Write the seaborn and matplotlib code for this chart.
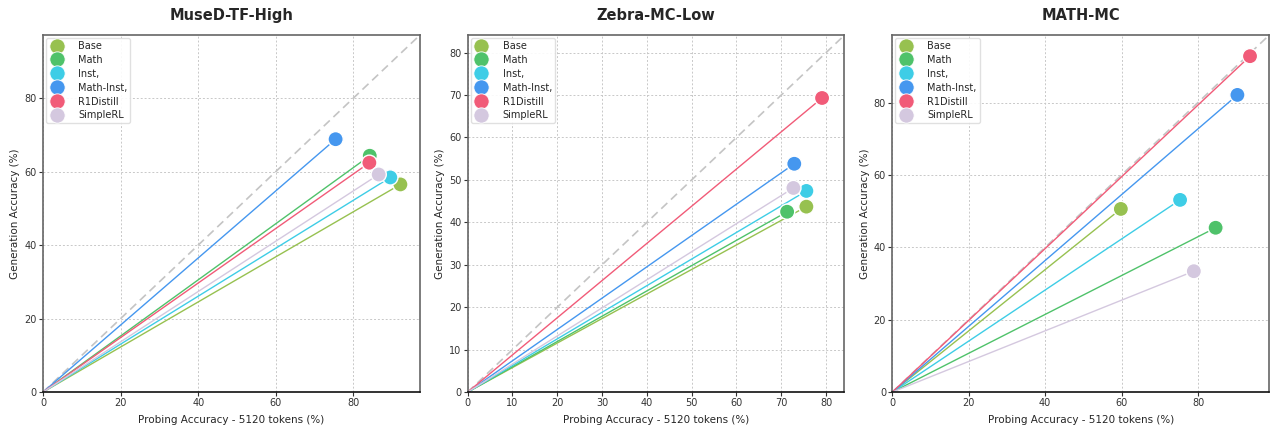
import matplotlib
matplotlib.use("Agg")
import matplotlib.pyplot as plt
from matplotlib.lines import Line2D
import seaborn as sns
import pandas as pd

models = ["Base", "Math", "Inst,", "Math-Inst,", "R1Distill", "SimpleRL"]
colors = ["#97c150", "#4fc26a", "#3ecde6", "#4597ef", "#f15b78", "#d4c8df"]

titles = ["MuseD-TF-High", "Zebra-MC-Low", "MATH-MC"]

# probing accuracy (x) and generation accuracy (y) per benchmark
muse_probe = [92.1, 84.2, 89.5, 75.4, 84.1, 86.5]
muse_gen = [56.5, 64.3, 58.4, 68.8, 62.4, 59.2]

zebra_probe = [75.6, 71.3, 75.6, 72.9, 79.1, 72.7]
zebra_gen = [43.7, 42.5, 47.4, 53.8, 69.3, 48.1]

math_probe = [59.8, 84.6, 75.3, 90.3, 93.6, 78.9]
math_gen = [50.6, 45.4, 53.1, 82.1, 92.8, 33.4]

tick_steps = [20, 10, 20]

sns.set_style("white")
plt.rcParams["font.family"] = ["DejaVu Sans"]

fig, axes = plt.subplots(1, 3, figsize=(12.8, 4.29), dpi=100)
fig.subplots_adjust(left=0.0336, right=0.9915, top=0.918, bottom=0.086, wspace=0.127)

palette = dict(zip(models, colors))
datasets = [(muse_probe, muse_gen), (zebra_probe, zebra_gen), (math_probe, math_gen)]

for ax, title, (xs, ys), step in zip(axes, titles, datasets, tick_steps):
    df = pd.DataFrame({"model": models, "probe": xs, "gen": ys})
    lim = max(max(xs), max(ys)) + 5

    ax.set_axisbelow(True)
    ax.grid(True, linestyle=(0, (2, 2)), color="#c8c8c8", linewidth=0.7)
    ax.plot([0, lim], [0, lim], linestyle=(0, (5, 3)), color="#c4c4c4", linewidth=1.2, zorder=1)

    # ray from the origin to each model's point
    for m, x, y in zip(models, xs, ys):
        ax.plot([0, x], [0, y], color=palette[m], linewidth=1.0, zorder=2)

    sns.scatterplot(data=df, x="probe", y="gen", hue="model", palette=palette,
                    hue_order=models, s=120, edgecolor="white", linewidth=1.0,
                    alpha=1.0, ax=ax, legend=False, zorder=3)

    ax.set_xlim(0, lim)
    ax.set_ylim(0, lim)
    ticks = list(range(0, int(lim) + 1, step))
    ax.set_xticks(ticks)
    ax.set_yticks(ticks)
    ax.tick_params(axis="both", labelsize=7, length=3, width=0.8, direction="out",
                   bottom=True, left=True, pad=1.5, colors="#333333")
    ax.set_title(title, fontsize=10.5, fontweight="bold", pad=11)
    ax.set_xlabel("Probing Accuracy - 5120 tokens (%)", fontsize=7.5, labelpad=5)
    ax.set_ylabel("Generation Accuracy (%)", fontsize=7.5, labelpad=3)
    for side in ["left", "top", "right"]:
        ax.spines[side].set_color("#666666")
        ax.spines[side].set_linewidth(1.2)
    ax.spines["bottom"].set_color("#111111")
    ax.spines["bottom"].set_linewidth(1.2)

    handles = [Line2D([], [], marker="o", linestyle="", markersize=11,
                      markerfacecolor=c, markeredgecolor="white", markeredgewidth=0.6)
               for c in colors]
    ax.legend(handles, models, loc="upper left", fontsize=7, frameon=True,
              framealpha=0.9, edgecolor="#dddddd", handletextpad=1.4,
              labelspacing=0.4, borderpad=0.3, handlelength=1.6,
              bbox_to_anchor=(0.0, 1.0), borderaxespad=0.3)

fig.savefig("out.png", dpi=100)
